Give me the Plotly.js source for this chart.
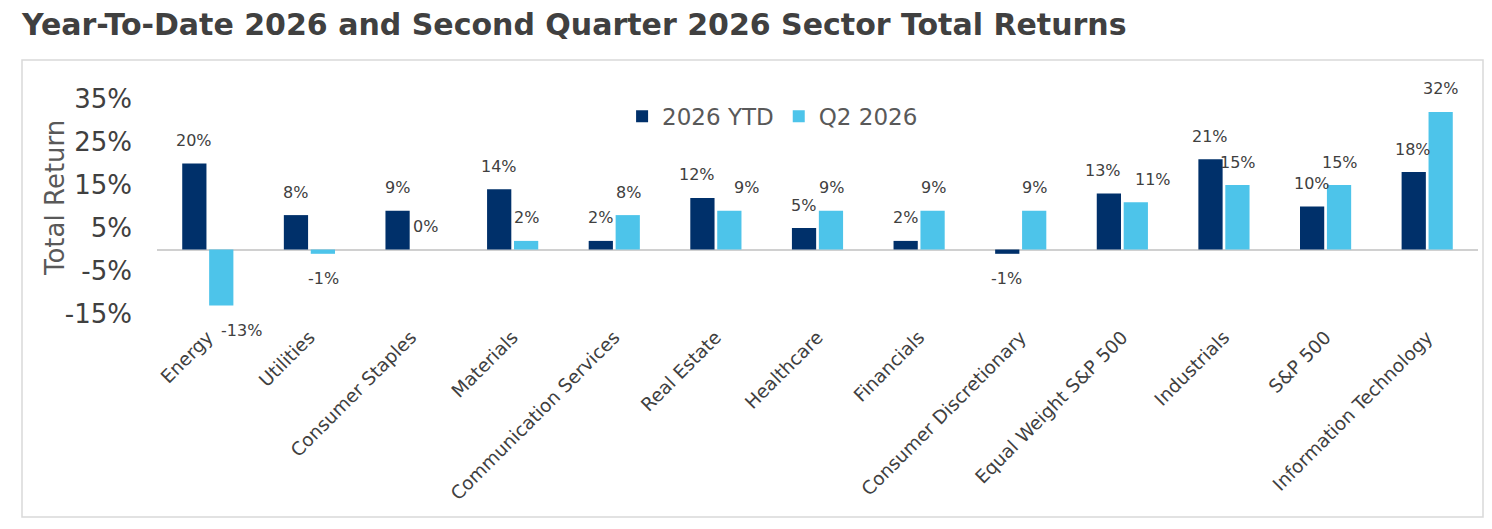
<!DOCTYPE html>
<html>
<head>
<meta charset="utf-8">
<script src="https://cdn.plot.ly/plotly-3.0.1.min.js"></script>
<style>
  html, body { margin: 0; padding: 0; background: #ffffff; }
  #chart { width: 1492px; height: 529px; }
</style>
</head>
<body>
<div id="chart"></div>
<script>
// Sector total returns, in percent
const sectors = [
  "Energy", "Utilities", "Consumer Staples", "Materials", "Communication Services",
  "Real Estate", "Healthcare", "Financials", "Consumer Discretionary",
  "Equal Weight S&P 500", "Industrials", "S&P 500", "Information Technology"
];
const ytd2026 = [20, 8, 9, 14, 2, 12, 5, 2, -1, 13, 21, 10, 18];
const q2_2026 = [-13, -1, 0, 2, 8, 9, 9, 9, 9, 11, 15, 15, 32];
const yTickVals = [-15, -5, 5, 15, 25, 35];
const yTickText = ["-15%", "-5%", "5%", "15%", "25%", "35%"];

const FONT = "'DejaVu Sans', sans-serif";
const NAVY = "#00306a";
const SKY = "#4dc4ea";
const TEXT = "#404040";

const traces = [
  { type: "bar", name: "2026 YTD", x: sectors, y: ytd2026, marker: { color: NAVY }, hoverinfo: "skip" },
  { type: "bar", name: "Q2 2026", x: sectors, y: q2_2026, marker: { color: SKY }, hoverinfo: "skip" }
];

// Value labels sit a fixed distance beyond the end of each bar.
// When a pair of positive labels would collide, they are spread sideways;
// deep negative labels slide right to stay clear of the slanted category names.
const labels = [];
sectors.forEach((s, i) => {
  const a = ytd2026[i], b = q2_2026[i];
  const crowded = a >= 0 && b >= 0 && Math.abs(a - b) < 4;
  [[a, -14, crowded ? -5 : 0], [b, 14, crowded ? 17 : 0]].forEach(([v, dx, nudge]) => {
    labels.push({
      x: s, y: v, xref: "x", yref: "y",
      text: v + "%", showarrow: false,
      xshift: dx + nudge + (v < -5 ? 20 : 0), yshift: v >= 0 ? 23 : -25,
      xanchor: "center", yanchor: "middle",
      font: { family: FONT, size: 16, color: TEXT }
    });
  });
});

// rotated axis caption left of the tick labels
labels.push({
  xref: "paper", yref: "paper", x: (55 - 157) / 1321, y: (314 - 198) / 215,
  text: "Total Return", textangle: -90, showarrow: false,
  xanchor: "center", yanchor: "middle",
  font: { family: FONT, size: 26, color: "#595959" }
});

const layout = {
  width: 1492, height: 529,
  margin: { l: 157, r: 14, t: 99, b: 215 },
  paper_bgcolor: "#ffffff", plot_bgcolor: "#ffffff",
  font: { family: FONT, color: TEXT },
  title: {
    text: "<b>Year-To-Date 2026 and Second Quarter 2026 Sector Total Returns</b>",
    font: { family: FONT, size: 30, color: "#404040" },
    xref: "container", x: 22 / 1492, xanchor: "left",
    yref: "container", y: 1 - 24 / 529, yanchor: "middle"
  },
  barmode: "group", bargap: 0.47, bargroupgap: 0.1,
  showlegend: true,
  legend: {
    orientation: "h", x: 0.466, y: 0.92, xanchor: "center", yanchor: "middle",
    font: { family: FONT, size: 23, color: "#595959" },
    itemwidth: 30, bgcolor: "rgba(0,0,0,0)"
  },
  xaxis: {
    type: "category", tickangle: -45, showgrid: false, showline: false, ticks: "",
    tickfont: { family: FONT, size: 18.5, color: TEXT }, ticklabelstandoff: 8, fixedrange: true
  },
  yaxis: {
    range: [-15, 35], tickvals: yTickVals, ticktext: yTickText,
    showgrid: false, showline: false, ticks: "",
    zeroline: true, zerolinecolor: "#d0d0d0", zerolinewidth: 2,
    tickfont: { family: FONT, size: 26, color: TEXT }, ticklabelstandoff: 24,
    fixedrange: true
  },
  annotations: labels,
  shapes: [{
    type: "rect", xref: "paper", yref: "paper",
    x0: (22 - 157) / 1321, x1: (1483 - 157) / 1321,
    y0: (314 - 517) / 215, y1: (314 - 60) / 215,
    line: { color: "#d9d9d9", width: 1.5 }, layer: "below"
  }]
};

Plotly.newPlot("chart", traces, layout, { displayModeBar: false, staticPlot: true });
</script>
</body>
</html>
